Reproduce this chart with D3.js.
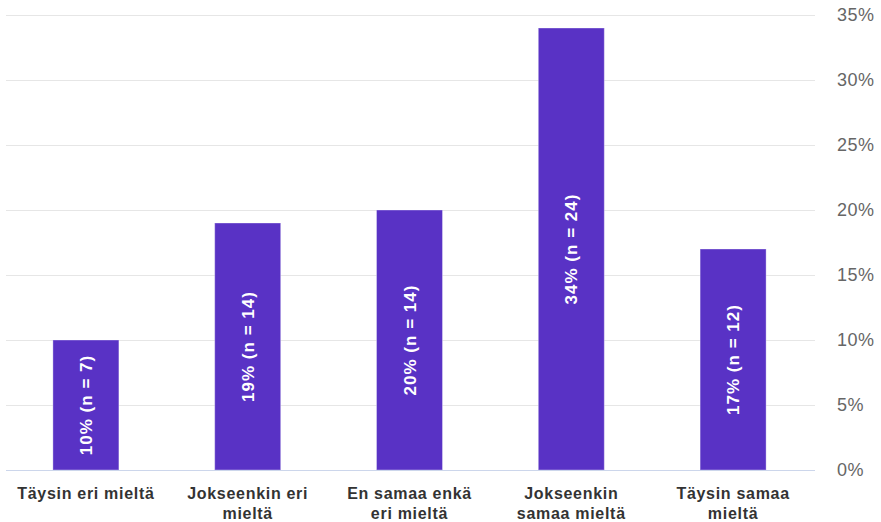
<!DOCTYPE html>
<html><head><meta charset="utf-8">
<script src="https://cdn.jsdelivr.net/npm/d3@7"></script>
<style>body{margin:0;background:#fff}svg{display:block}</style>
</head><body>
<svg id="c" width="881" height="522"></svg>
<script>
const categories = [["Täysin eri mieltä"],["Jokseenkin eri","mieltä"],["En samaa enkä","eri mieltä"],["Jokseenkin","samaa mieltä"],["Täysin samaa","mieltä"]];
const values = [10, 19, 20, 34, 17];
const counts = [7, 14, 14, 24, 12];
const yTicks = [0, 5, 10, 15, 20, 25, 30, 35];

const svg = d3.select("#c");
const font = "'Liberation Sans', Arial, sans-serif";
const x = d3.scaleBand().domain(d3.range(values.length)).range([5, 814]);
const y = d3.scaleLinear().domain([0, 35]).range([470, 15]);
const barW = 66;

const grid = svg.append("g");
grid.selectAll("line").data(yTicks.filter(t => t > 0)).join("line")
  .attr("x1", 6).attr("x2", 815)
  .attr("y1", d => y(d) + 0.5).attr("y2", d => y(d) + 0.5)
  .attr("stroke", "#e6e6e6").attr("stroke-width", 1);

svg.append("g").selectAll("rect").data(values).join("rect")
  .attr("x", (d, i) => x(i) + x.bandwidth() / 2 - barW / 2)
  .attr("width", barW)
  .attr("y", d => y(d))
  .attr("height", d => y(0) - y(d))
  .attr("fill", "#5932c5")
  .attr("stroke", "rgba(255,255,255,0.35)").attr("stroke-width", 1);

svg.append("line").attr("x1", 6).attr("x2", 815)
  .attr("y1", y(0) + 0.5).attr("y2", y(0) + 0.5)
  .attr("stroke", "#ccd6eb").attr("stroke-width", 1);

svg.append("g").selectAll("text").data(yTicks).join("text")
  .attr("x", 837).attr("y", d => y(d) + 6)
  .attr("font-family", font).attr("font-size", 18).attr("fill", "#666")
  .attr("letter-spacing", 0.5)
  .text(d => d + "%");

svg.append("g").selectAll("text").data(values).join("text")
  .attr("transform", (d, i) => `translate(${x(i) + x.bandwidth() / 2 + 6},${(y(d) + y(0)) / 2}) rotate(-90)`)
  .attr("text-anchor", "middle")
  .attr("font-family", font).attr("font-size", 17).attr("font-weight", "bold").attr("fill", "#fff")
  .attr("letter-spacing", 1)
  .text((d, i) => `${d}%  (n = ${counts[i]})`);

const cl = svg.append("g").selectAll("text").data(categories).join("text")
  .attr("x", (d, i) => x(i) + x.bandwidth() / 2)
  .attr("y", 499)
  .attr("text-anchor", "middle")
  .attr("font-family", font).attr("font-size", 16).attr("font-weight", "bold").attr("fill", "#333")
  .attr("letter-spacing", 0.7);
cl.selectAll("tspan").data(d => d).join("tspan")
  .attr("x", function() { return d3.select(this.parentNode).attr("x"); })
  .attr("dy", (d, j) => j === 0 ? 0 : 20)
  .text(d => d);
</script>
</body></html>
